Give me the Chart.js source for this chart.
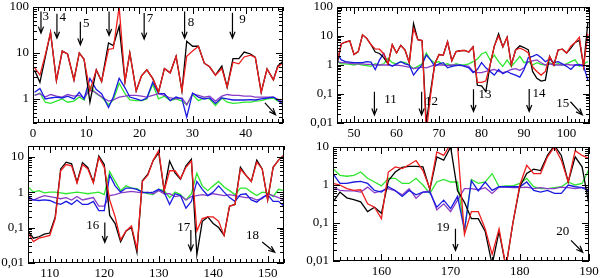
<!DOCTYPE html>
<html>
<head>
<meta charset="utf-8">
<script src="https://cdn.jsdelivr.net/npm/chart.js@4.4.1/dist/chart.umd.min.js"></script>
<style>
  body { margin: 0; background: #fff; }
  #wrap { position: relative; width: 600px; height: 278px; }
  canvas { position: absolute; }
</style>
</head>
<body>
<div id="wrap">
  <canvas id="p1" width="300" height="139" style="left:0;top:0"></canvas>
  <canvas id="p2" width="300" height="139" style="left:300px;top:0"></canvas>
  <canvas id="p3" width="300" height="139" style="left:0;top:139px"></canvas>
  <canvas id="p4" width="300" height="139" style="left:300px;top:139px"></canvas>
</div>
<script>
// Panel 1
const xs1 = [0.3,1.3,2.3,3.3,4.4,5.5,6.5,7.7,8.7,9.6,10.7,11.9,12.9,14.2,15.1,16.2,17.3,18.2,19.4,20.4,21.4,22.5,23.6,24.7,25.8,26.9,28,28.9,30,31.1,32.2,33.2,34.3,35.5,36.5,37.6,38.7,39.7,40.9,41.8,42.9,44,45.2,46,47];
const red1 = [4.8,3.3,9,28,2.5,11,9.5,2.6,10,7.3,1.5,4.3,2.4,12,12.5,100,2.4,10,1.5,3.2,4.3,2.8,1.4,4.6,3.7,8.5,1.5,8.5,11,14,6,5,3.3,4.6,1.8,6.3,5.8,8.2,9,8,1.4,4.5,2.6,4.9,6.2];
const black1 = [4.2,2.3,8,28,2.5,11,9.5,2.6,10,7.3,0.85,4.3,2.4,16.5,14.5,38,2.4,10,1.5,3.2,4.3,2.8,1.4,4.6,3.7,8.5,1.5,18,14,14,6,5,3.3,5.2,1.8,7.5,7.5,10.5,9.5,8,1.4,4.5,2.6,5.2,6.6];
const green1 = [1.2,1.35,0.85,0.8,0.9,1.0,0.85,0.9,1.1,0.95,1.9,1.3,1.1,0.75,0.95,2.2,1.3,0.95,0.92,0.92,1.0,2.1,1.0,1.15,0.92,1.0,0.9,0.75,1.25,0.92,1.05,1.0,0.72,1.05,0.85,0.8,0.82,0.85,0.85,0.9,0.92,1.0,1.05,0.9,0.85];
const blue1 = [1.4,1.7,1.0,1.05,1.1,1.05,1.15,1.0,1.4,1.0,2.8,1.6,1.3,0.65,1.1,2.8,1.75,1.1,1.0,0.92,1.05,2.3,1.3,1.3,0.92,1.1,1.0,0.4,1.35,1.1,1.0,1.05,0.8,1.05,1.0,0.95,0.95,0.95,0.97,0.95,1.0,1.05,1.1,0.95,0.75];
const violet1 = [1.2,1.3,1.1,1.25,1.15,1.1,1.25,1.15,1.2,1.05,1.6,1.35,1.1,0.9,0.95,1.1,1.15,1.2,1.2,1.15,1.1,1.2,1.3,1.2,1.05,1.0,1.05,0.75,1.3,1.2,1.1,1.15,0.9,1.15,1.25,1.2,1.2,1.15,1.15,1.1,1.1,1.1,1.1,1.0,0.85];
const xTicks1 = [0,10,20,30,40];
const yTicks1 = [1,10,100];
const arrows1 = [[1.5,80,1.5,27],[4.5,71,4.5,21],[8.9,48,8.9,15],[14.3,80,14.3,24],[20.9,74,20.9,20],[28.5,80,28.5,21],[37.5,75,37.5,21],[43.6,0.82,45.6,0.455]];
const notes1 = [[2.4,62,'3'],[5.6,58,'4'],[10,43,'5'],[22,57,'7'],[29.7,46,'8'],[39.4,53,'9']];

// Panel 2
const xs2 = [46,47,48,49,50,51,52,53,54,55,56,57,58,59,60,61,62,63,64,65,66,67,68,69,70,71,72,73,74,75,76,77,78,79,80,81,82,83,84,85,86,87,88,89,90,91,92,93,94,95,96,97,98,99,100,101,102,103,104,105];
const red2 = [1.3,5.3,6.2,6.8,2.3,2.9,11,8.3,5,3.6,3.5,2.4,1.1,5,2.6,4.8,3.3,1.2,18,7.5,7,0.005,0.09,1.1,2.3,2.2,6.3,1.4,2.9,3.1,3.2,2.8,4.2,0.25,0.25,0.28,1.0,4.5,10,4.2,9,1.0,3.3,3.8,3.3,2.6,0.85,0.6,0.45,0.6,2.0,1.0,3.3,3.5,2.6,4.5,6,9,0.9,12];
const black2 = [1.0,5.3,6.2,6.8,2.3,2.9,11,8.3,5,2.8,2.5,1.8,1.1,5,2.6,4.8,3.3,1.2,27,7.5,7,0.01,0.12,1.1,2.3,2.2,6.3,1.4,2.9,3.1,3.2,2.8,4.2,0.2,0.19,0.12,1.0,4.5,12,4.2,9,1.0,3.3,4.6,4,3.3,0.6,0.35,0.28,0.3,2.0,1.0,3.3,3.5,2.6,3.8,6,7,0.9,30];
const green2 = [1.3,1.1,1.1,1.05,1.0,1.1,1.0,0.95,0.9,1.1,1.0,1.1,1.7,1.2,1.1,1.3,1.2,1.0,0.75,0.9,1.1,2.6,1.5,1.2,1.3,1.0,1.1,0.95,1.1,1.0,1.0,1.1,1.3,1.6,2.4,2.8,1.5,2.2,1.3,0.9,1.5,0.9,1.3,2.0,1.2,1.3,1.0,1.2,1.05,1.0,1.2,1.0,1.1,1.0,1.1,1.3,1.5,0.9,1.1,1.3];
const blue2 = [2.5,1.5,1.3,1.25,1.2,1.2,1.2,1.3,1.25,0.7,1.5,2.5,1.1,0.9,1.1,1.3,1.1,1.0,0.45,0.7,1.0,2.2,1.5,0.9,1.1,1.2,0.8,0.9,0.95,1.0,0.9,0.8,0.55,0.7,1.2,0.8,0.6,0.45,0.7,0.5,0.6,0.5,0.45,0.38,0.7,1.8,2.0,2.3,1.8,1.3,1.6,1.2,1.3,1.1,0.9,0.7,1.0,1.0,0.9,0.3];
const violet2 = [1.3,1.2,1.2,1.15,1.1,1.1,1.1,1.05,1.05,1.0,1.0,1.0,1.0,0.95,1.0,0.95,0.9,0.85,0.75,0.8,0.85,0.8,0.9,1.0,1.0,1.0,0.95,1.0,1.0,0.95,0.95,0.9,0.6,0.55,0.55,0.6,0.65,0.7,0.6,0.55,0.6,0.7,0.75,0.65,0.8,1.3,1.4,1.5,1.2,1.0,1.1,1.0,1.0,1.0,1.05,1.0,1.0,1.05,1.0,0.9];
const xTicks2 = [50,60,70,80,90,100];
const yTicks2 = [0.01,0.1,1,10,100];
const arrows2 = [[54.8,0.12,54.8,0.019],[65.9,0.12,65.9,0.019],[78.1,0.145,78.1,0.025],[91.2,0.15,91.2,0.025],[100.9,0.054,103.7,0.019]];
const notes2 = [[58.6,0.062,'11'],[68.2,0.055,'12'],[80.8,0.093,'13'],[93.5,0.1,'14'],[99.1,0.045,'15']];

// Panel 3
const xs3 = [106,107,108,109,110,111,112,113,114,115,116,117,118,119,120,121,122,123,124,125,126,127,128,129,130,131,132,133,134,135,136,137,138,139,140,141,142,143,144,145,146,147,148,149,150,151,152,153];
const red3 = [0.07,0.04,0.05,0.055,0.06,0.18,4,6,5.5,1.8,6,4.5,1.8,9.5,5,0.6,0.2,0.045,0.08,0.11,0.025,2,3,8,15,1.1,4,4,2.4,5,7.5,0.08,0.18,0.2,0.2,0.15,0.06,0.4,0.45,4.5,3,2,7,4.5,0.6,5,8,11];
const black3 = [0.08,0.05,0.055,0.065,0.07,0.2,4.5,7,6.3,1.9,6.8,4.9,1.9,10.5,6,0.22,0.13,0.04,0.08,0.1,0.02,2.1,3.2,7.9,13,1.1,7.5,3.5,2.3,5.5,8.5,0.017,0.15,0.2,0.13,0.1,0.06,0.4,0.45,5,3,2,8,4.5,0.6,5,8,11];
const green3 = [1.4,1.0,1.1,0.95,1.0,1.0,0.95,0.9,0.95,1.0,0.95,0.9,0.95,1.0,0.85,3.8,2.0,1.1,1.5,1.3,1.25,1.0,0.9,0.85,1.2,1.1,0.7,1.0,0.85,0.6,0.9,3.4,1.5,1.1,1.5,2.0,1.4,1.1,0.85,1.3,1.3,1.0,0.8,1.0,0.95,0.75,1.2,1.1];
const blue3 = [0.75,0.6,0.58,0.6,0.58,0.5,0.45,0.55,0.45,0.6,0.45,0.45,0.55,0.3,0.3,3.0,1.5,1.0,1.3,1.3,1.2,1.0,0.95,1.0,1.2,1.0,0.45,0.9,0.8,0.35,0.55,2.0,1.2,0.8,1.0,1.5,1.0,0.7,0.55,0.85,0.9,0.6,0.52,0.7,0.85,0.55,0.55,0.4];
const violet3 = [0.6,0.6,0.7,0.8,0.75,0.7,0.65,0.7,0.6,0.75,0.6,0.65,0.7,0.4,0.4,0.8,0.85,0.95,1.0,1.05,1.0,0.95,1.0,0.9,1.1,0.9,0.9,0.75,0.8,0.6,0.75,0.8,0.85,0.8,0.9,0.85,0.8,0.85,0.8,0.75,0.7,0.7,0.6,0.65,0.9,0.8,0.7,0.6];
const xTicks3 = [110,120,130,140,150];
const yTicks3 = [0.01,0.1,1,10];
const arrows3 = [[120.1,0.14,120.1,0.038],[135.9,0.085,135.9,0.022],[149,0.039,151.3,0.02]];
const notes3 = [[117.9,0.116,'16'],[134.6,0.1,'17'],[147.2,0.058,'18']];

// Panel 4
const xs4 = [153,154,155,156,157,158,159,160,161,162,163,164,165,166,167,168,169,170,171,172,173,174,175,176,177,178,179,180,181,182,183,184,185,186,187,188,189,190];
const red4 = [1.1,1.0,0.8,0.72,0.75,0.32,0.26,0.13,2.2,3.0,2.7,3.4,4.4,2.4,0.8,7.4,6.0,12,11,0.05,0.2,0.2,0.07,0.015,0.07,0.007,0.1,1.0,3.3,2.0,2.0,5.5,10,4.5,1.2,8,6,5];
const black4 = [0.36,0.65,0.46,0.41,0.36,0.2,0.26,0.18,1.3,2.2,2.9,3.1,3.1,3.0,0.75,5.5,4.5,10,0.7,0.35,0.13,0.13,0.06,0.008,0.06,0.007,0.1,0.9,2.0,2.6,2.4,6,11,6,1.2,5.5,3,0.3];
const green4 = [2.7,1.8,1.7,1.8,2.2,1.5,1.2,0.95,1.5,1.5,1.1,1.1,1.5,1.0,0.6,1.2,1.4,1.2,1.2,0.06,1.4,1.1,1.2,2.0,0.9,0.95,0.95,1.1,1.5,0.9,0.8,0.8,0.85,0.9,1.2,1.0,1.1,2.6];
const blue4 = [2.0,1.1,1.1,1.2,1.25,1.1,0.72,0.65,0.9,0.72,0.5,0.72,0.55,0.65,0.65,0.26,0.4,0.24,0.5,0.065,1.3,0.7,1.2,0.72,0.9,0.9,0.9,0.9,1.2,0.72,0.65,0.72,0.6,0.6,1.0,0.9,0.85,0.7];
const violet4 = [0.88,0.72,0.7,0.7,0.65,0.88,0.62,0.7,0.8,0.7,0.55,0.8,0.45,0.65,0.7,0.22,0.32,0.2,0.4,0.8,0.8,0.75,0.85,0.6,0.88,0.88,0.85,0.85,0.88,0.8,0.85,0.8,0.8,0.88,0.85,0.8,0.85,0.85];
const xTicks4 = [160,170,180,190];
const yTicks4 = [0.01,0.1,1,10];
const arrows4 = [[170.7,0.071,170.7,0.019],[187.4,0.035,189.1,0.017]];
const notes4 = [[168.9,0.076,'19'],[186.2,0.058,'20']];

const COLORS = { red: '#ee1c1c', black: '#000000', blue: '#1a1ae0', violet: '#8a3cc8', green: '#2ee62e' };
const FONT = '"Liberation Serif", "Times New Roman", serif';

// Frame, inward ticks and arrow notes
const framePlugin = {
    id: 'frame',
    afterDatasetsDraw(chart, args, opts) {
        const { ctx, chartArea: a, scales: { x, y } } = chart;
        ctx.save();
        ctx.strokeStyle = '#000';
        ctx.lineWidth = 1;
        ctx.beginPath();
        // x ticks every unit, long every 10
        for (let v = Math.ceil(x.min); v <= x.max; v++) {
            const px = Math.round(x.getPixelForValue(v)) + 0.5;
            const len = v % 10 === 0 ? 7 : 4;
            ctx.moveTo(px, a.bottom); ctx.lineTo(px, a.bottom - len);
            ctx.moveTo(px, a.top); ctx.lineTo(px, a.top + len);
        }
        // log y ticks
        const d0 = Math.floor(Math.log10(y.min)), d1 = Math.ceil(Math.log10(y.max));
        for (let d = d0; d <= d1; d++) {
            for (let m = 1; m <= 9; m++) {
                const v = m * Math.pow(10, d);
                if (v < y.min * 0.999 || v > y.max * 1.001) continue;
                const py = Math.round(y.getPixelForValue(v)) + 0.5;
                const len = m === 1 ? 7 : 4;
                ctx.moveTo(a.left, py); ctx.lineTo(a.left + len, py);
                ctx.moveTo(a.right, py); ctx.lineTo(a.right - len, py);
            }
        }
        ctx.stroke();
        ctx.strokeRect(a.left + 0.5, a.top + 0.5, a.right - a.left - 1, a.bottom - a.top - 1);

        // arrows
        ctx.lineWidth = 1.2;
        (opts.arrows || []).forEach(([x1, y1, x2, y2]) => {
            const p1x = x.getPixelForValue(x1), p1y = y.getPixelForValue(y1);
            const p2x = x.getPixelForValue(x2), p2y = y.getPixelForValue(y2);
            const ang = Math.atan2(p2y - p1y, p2x - p1x);
            ctx.beginPath();
            ctx.moveTo(p1x, p1y); ctx.lineTo(p2x, p2y);
            ctx.moveTo(p2x - 7 * Math.cos(ang - 0.38), p2y - 7 * Math.sin(ang - 0.38));
            ctx.lineTo(p2x, p2y);
            ctx.lineTo(p2x - 7 * Math.cos(ang + 0.38), p2y - 7 * Math.sin(ang + 0.38));
            ctx.stroke();
        });
        ctx.fillStyle = '#000';
        ctx.font = '13px ' + FONT;
        ctx.textAlign = 'center';
        ctx.textBaseline = 'middle';
        (opts.notes || []).forEach(([nx, ny, t]) => {
            ctx.fillText(t, x.getPixelForValue(nx), y.getPixelForValue(ny));
        });
        ctx.restore();
    }
};

const fmt = v => v >= 1 ? String(v) : String(v).replace('.', ',');

function makeDs(xs, vals, color) {
    return {
        data: xs.map((x, i) => ({ x: x, y: vals[i] })),
        borderColor: color, borderWidth: 1.3, pointRadius: 0, tension: 0, fill: false
    };
}

function panel(id, xs, s, xr, yr, xTicks, yTicks, box, arrows, notes) {
    new Chart(document.getElementById(id), {
        type: 'line',
        data: {
            datasets: [
                makeDs(xs, s.red, COLORS.red),
                makeDs(xs, s.black, COLORS.black),
                makeDs(xs, s.blue, COLORS.blue),
                makeDs(xs, s.violet, COLORS.violet),
                makeDs(xs, s.green, COLORS.green)
            ]
        },
        options: {
            responsive: false,
            animation: false,
            layout: { padding: { top: box.top, right: box.right, left: 0, bottom: 0 } },
            plugins: { legend: { display: false }, tooltip: { enabled: false }, frame: { arrows: arrows, notes: notes } },
            scales: {
                x: {
                    type: 'linear', min: xr[0], max: xr[1],
                    grid: { display: false, drawTicks: false }, border: { display: false },
                    ticks: { color: '#000', font: { family: FONT, size: 13 }, padding: 3, maxRotation: 0, autoSkip: false },
                    afterBuildTicks: sc => { sc.ticks = xTicks.map(v => ({ value: v })); },
                    afterFit: sc => { sc.height = box.axisH; sc.paddingLeft = 0; sc.paddingRight = 0; }
                },
                y: {
                    type: 'logarithmic', min: yr[0], max: yr[1],
                    grid: { display: false, drawTicks: false }, border: { display: false },
                    ticks: { color: '#000', font: { family: FONT, size: 13 }, padding: 4, autoSkip: false, callback: v => fmt(v) },
                    afterBuildTicks: sc => { sc.ticks = yTicks.map(v => ({ value: v })); },
                    afterFit: sc => { sc.width = box.axisW; sc.paddingTop = 0; sc.paddingBottom = 0; }
                }
            }
        },
        plugins: [framePlugin]
    });
}

panel('p1', xs1, { red: red1, black: black1, green: green1, blue: blue1, violet: violet1 },
    [0, 47], [0.3, 100], xTicks1, yTicks1, { axisW: 33, axisH: 16, top: 7, right: 17 }, arrows1, notes1);
panel('p2', xs2, { red: red2, black: black2, green: green2, blue: blue2, violet: violet2 },
    [46, 105.5], [0.01, 100], xTicks2, yTicks2, { axisW: 37, axisH: 16, top: 7, right: 10 }, arrows2, notes2);
panel('p3', xs3, { red: red3, black: black3, green: green3, blue: blue3, violet: violet3 },
    [106, 153], [0.01, 20], xTicks3, yTicks3, { axisW: 28, axisH: 15, top: 7, right: 16 }, arrows3, notes3);
panel('p4', xs4, { red: red4, black: black4, green: green4, blue: blue4, violet: violet4 },
    [153, 190], [0.01, 10], xTicks4, yTicks4, { axisW: 33, axisH: 17, top: 8, right: 11 }, arrows4, notes4);
</script>
</body>
</html>
